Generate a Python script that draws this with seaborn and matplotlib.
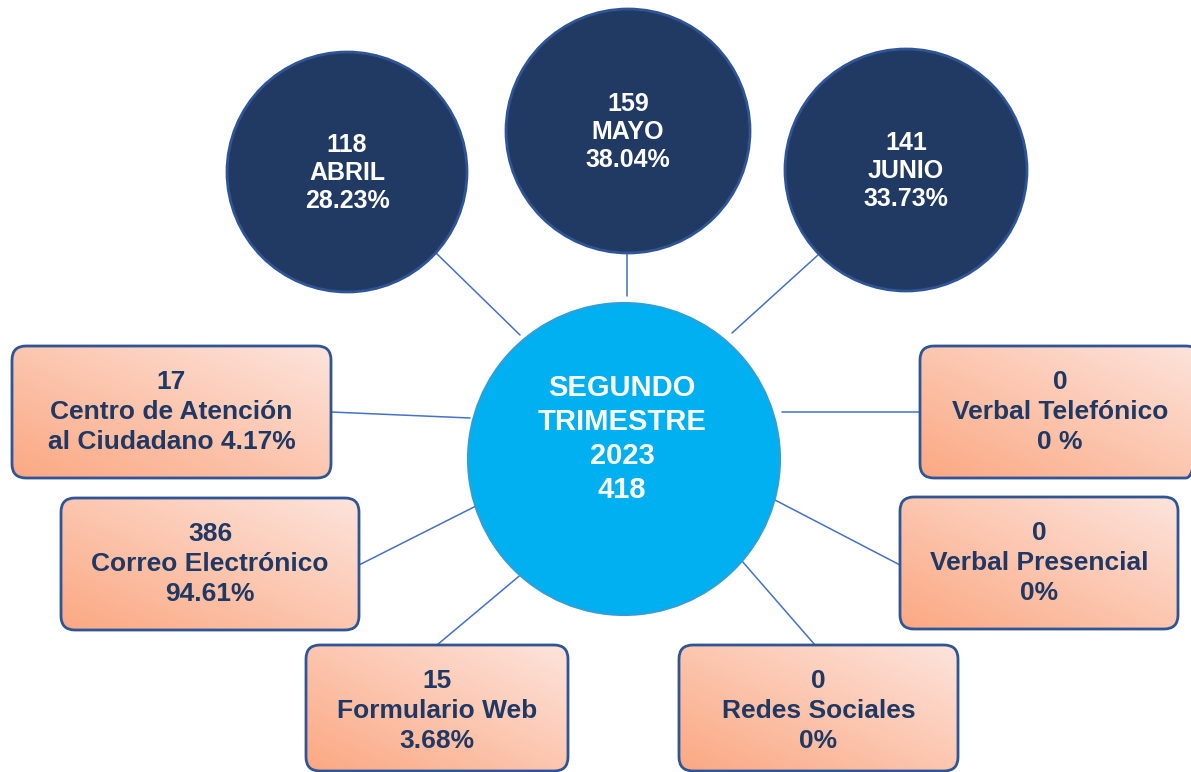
import numpy as np
import matplotlib
matplotlib.use("Agg")
import matplotlib.pyplot as plt
from matplotlib.patches import Circle, FancyBboxPatch
from matplotlib.colors import LinearSegmentedColormap
import seaborn as sns

# ---- data ----
title_lines = ["SEGUNDO", "TRIMESTRE", "2023"]
total = 418
months = ["ABRIL", "MAYO", "JUNIO"]
month_counts = [118, 159, 141]
month_pcts = ["28.23%", "38.04%", "33.73%"]
channels = ["Centro de Atención\nal Ciudadano", "Correo Electrónico", "Formulario Web",
            "Verbal Telefónico", "Verbal Presencial", "Redes Sociales"]
channel_counts = [17, 386, 15, 0, 0, 0]
channel_pcts = ["4.17%", "94.61%", "3.68%", "0 %", "0%", "0%"]

sns.set_theme(style="white")
plt.rcParams["font.family"] = ["Liberation Sans", "DejaVu Sans"]

W, H = 1191, 772
fig = plt.figure(figsize=(W / 100, H / 100), dpi=100)
ax = fig.add_axes([0, 0, 1, 1])
ax.set_xlim(0, W)
ax.set_ylim(H, 0)
ax.axis("off")

DARK = "#213a63"
EDGE = "#2f5597"
TXT = "#1f3864"
LINE = "#4472c4"

# layout (pixel space)
center = (624, 459, 156)
month_geo = [(347, 172, 120), (628, 131, 122), (906, 170, 121)]
box_geo = [(12, 346, 319, 132), (61, 498, 298, 132), (306, 645, 262, 126),
           (920, 346, 280, 132), (900, 497, 278, 132), (679, 645, 279, 126)]
month_links = [((435, 252), (520, 335)), ((627, 254), (627, 296)), ((818, 255), (732, 333))]
box_links = [((331, 412), (470, 418)), ((359, 565), (478, 505)), ((437, 645), (530, 567)),
             ((782, 412), (920, 412)), ((775, 500), (900, 565)), ((735, 553), (815, 645))]

for (p, q) in month_links + box_links:
    ax.plot([p[0], q[0]], [p[1], q[1]], color=LINE, lw=1.1, zorder=1)

# month circles
for (cx, cy, r), m, c, pct in zip(month_geo, months, month_counts, month_pcts):
    ax.add_patch(Circle((cx, cy), r, facecolor=DARK, edgecolor=EDGE, lw=2, zorder=2))
    ax.text(cx, cy + 1, f"{c}\n{m}\n{pct}", ha="center", va="center", color="white",
            fontsize=18, fontweight="bold", linespacing=1.21, zorder=3)

# center circle
cx, cy, r = center
ax.add_patch(Circle((cx, cy), r, facecolor="#00b0f0", edgecolor="#2e9fd8", lw=1.5, zorder=2))
ax.text(cx - 2, cy - 20, "\n".join(title_lines + [str(total)]), ha="center", va="center",
        color="white", fontsize=21, fontweight="bold", linespacing=1.28, zorder=3)

# gradient boxes
cmap = LinearSegmentedColormap.from_list("peach", ["#fba882", "#fde4dc"])
gx, gy = np.meshgrid(np.linspace(0, 1, 200), np.linspace(0, 1, 200))
grad = (gx + (1 - gy)) / 2.0
for (x, y, w, h), name, c, pct in zip(box_geo, channels, channel_counts, channel_pcts):
    patch = FancyBboxPatch((x + 14, y + 14), w - 28, h - 28,
                           boxstyle="round,pad=14", facecolor="none",
                           edgecolor=EDGE, lw=2, zorder=4)
    im = ax.imshow(grad, cmap=cmap, extent=(x, x + w, y + h, y), origin="upper",
                   aspect="auto", zorder=3, interpolation="bilinear")
    ax.add_patch(patch)
    im.set_clip_path(patch)
    if "\n" in name:
        label = f"{c}\n{name} {pct}"
    else:
        label = f"{c}\n{name}\n{pct}"
    ax.text(x + w / 2, y + 66, label, ha="center", va="center", color=TXT,
            fontsize=19, fontweight="bold", linespacing=1.32, zorder=5)

ax.set_xlim(0, W)
ax.set_ylim(H, 0)
fig.savefig("out.png", dpi=100, facecolor="white")
